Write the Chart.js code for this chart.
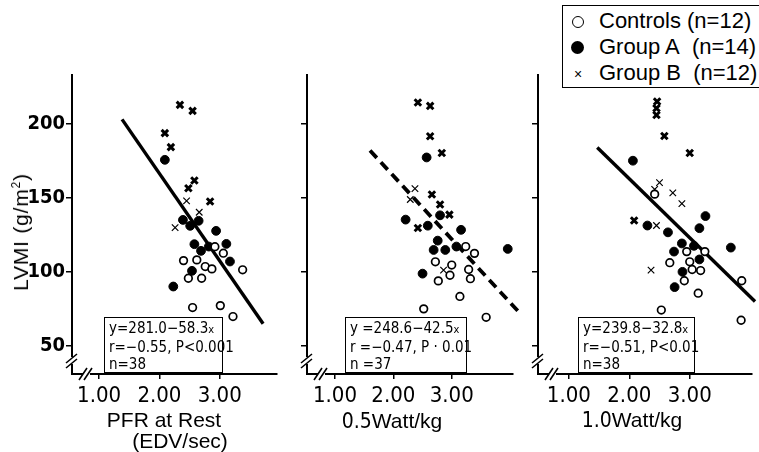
<!DOCTYPE html>
<html><head><meta charset="utf-8">
<script src="https://cdn.jsdelivr.net/npm/chart.js@4/dist/chart.umd.min.js"></script>
<style>
html,body{margin:0;padding:0;background:#fff;}
#wrap{position:relative;width:759px;height:452px;overflow:hidden;background:#fff;font-family:"Liberation Sans",Arial,sans-serif;color:#000;}
canvas{position:absolute;top:0;}
.box{position:absolute;border:1.5px solid #000;background:#fff;font-family:"Liberation Sans Narrow","DejaVu Sans Condensed",sans-serif;font-size:15px;line-height:17.5px;padding:2px 4px;box-sizing:border-box;white-space:nowrap;}
.legend{position:absolute;left:562px;top:5px;width:200px;height:83px;border:1.5px solid #000;background:#fff;box-sizing:border-box;font-size:22px;}
.legend .txt{position:absolute;left:36px;white-space:nowrap;line-height:26px;}
.legend .mk{position:absolute;box-sizing:border-box;border-radius:50%;}
.legend .x{position:absolute;left:9px;font-size:14px;line-height:14px;width:12px;text-align:center;}
.title{position:absolute;white-space:nowrap;font-size:21px;transform:translate(-50%,-50%);}
.narrow{font-family:"Liberation Sans Narrow","DejaVu Sans Condensed",sans-serif;}
</style></head>
<body><div id="wrap">
<canvas id="c1" width="285" height="452" style="left:0px"></canvas>
<canvas id="c2" width="286" height="452" style="left:235px"></canvas>
<canvas id="c3" width="293" height="452" style="left:466px"></canvas>

<div class="box" style="left:104px;top:317px;width:119px;height:56px;">y=281.0−58.3<span style="font-size:11px">x</span><br>r=−0.55, P&lt;0.001<br>n=38</div>
<div class="box" style="left:345px;top:317px;width:122px;height:56px;">y =248.6−42.5<span style="font-size:11px">x</span><br>r =−0.47, P · 0.01<br>n =37</div>
<div class="box" style="left:578px;top:317px;width:117px;height:56px;">y=239.8−32.8<span style="font-size:11px">x</span><br>r=−0.51, P&lt;0.01<br>n=38</div>

<div class="legend">
  <div class="mk" style="left:9px;top:10px;width:12px;height:12px;border:1.5px solid #000;"></div>
  <div class="txt" style="top:2px">Controls (n=12)</div>
  <div class="mk" style="left:8px;top:35px;width:13px;height:13px;background:#000;"></div>
  <div class="txt" style="top:28px">Group A&nbsp; (n=14)</div>
  <div class="x" style="top:61px">×</div>
  <div class="txt" style="top:54px">Group B&nbsp; (n=12)</div>
</div>

<div class="title" style="left:21px;top:232px;letter-spacing:0.8px;transform:translate(-50%,-50%) rotate(-90deg);">LVMI (g/m<sup style="font-size:12px">2</sup>)</div>
<div class="title" style="left:164px;top:420px;">PFR at Rest</div>
<div class="title" style="left:180px;top:441px;">(EDV/sec)</div>
<div class="title" style="left:392px;top:421px;"><span class="narrow">0.5</span>Watt/kg</div>
<div class="title" style="left:632px;top:420px;"><span class="narrow">1.0</span>Watt/kg</div>
</div>
<script>
// ---- data ----
const xTicks = [1, 2, 3];
const yTicks = [50, 100, 150, 200];

// Panel 1: PFR at rest
const restControls = [[2.92,117],[3.06,112.6],[2.40,107.6],[2.62,108.1],[2.76,103.6],[2.87,102],[3.38,101.4],[2.48,95.7],[2.70,95.7],[2.55,75.9],[3.01,77.2],[3.22,69.8]];
const restGroupA = [[2.09,175.7],[2.39,135.1],[2.51,131.1],[2.65,134.5],[2.94,127.7],[2.58,118.7],[2.69,114.2],[2.82,117.1],[3.11,118.9],[3.17,107],[2.54,100.7],[2.23,90.1]];
const restGroupB = [[2.34,212.8],[2.55,208.8],[2.09,193.7],[2.19,184.3],[2.58,161.7],[2.48,156.5],[2.84,147.5]];
const restGroupBLight = [[2.45,148],[2.66,140.3],[2.26,129.9]];
const restFit = [[1.38,203],[3.72,65]];

// Panel 2: 0.5 Watt/kg
const halfControls = [[3.24,117.1],[3.39,112.5],[2.72,106.8],[3.00,104.6],[3.29,101.6],[2.97,97.7],[3.32,95.4],[2.77,93.9],[3.14,83.4],[2.52,75],[3.59,69.3]];
const halfGroupA = [[2.57,177.3],[2.21,135.3],[2.59,131.2],[2.80,138.2],[3.16,128.4],[2.76,121.1],[2.69,114.8],[2.89,114.8],[3.08,117.1],[3.96,115.5],[2.50,98.8]];
const halfGroupB = [[2.42,214.4],[2.63,212.1],[2.63,191.6],[2.83,180.3],[2.66,152.3],[2.80,145.5],[2.96,138.7],[2.42,129.6]];
const halfGroupBLight = [[2.37,156.2],[2.29,148.9],[2.86,101.2]];
const halfFit = [[1.60,182],[4.17,72]];

// Panel 3: 1.0 Watt/kg
const oneControls = [[2.42,152.5],[2.95,113.7],[3.25,113.7],[2.67,106.2],[3.00,106.8],[3.04,101.6],[3.18,100.9],[2.91,94],[3.86,94],[3.14,85.6],[2.53,74.2],[3.85,67.3]];
const oneGroupA = [[2.06,175.1],[3.26,137.7],[3.16,129.5],[2.30,131.3],[2.64,126.7],[2.87,119.2],[3.07,117.6],[2.74,113.7],[3.68,116.4],[3.16,108.4],[2.88,100],[2.75,89.7]];
const oneGroupB = [[2.46,215.1],[2.45,210.5],[2.45,206],[2.58,191.8],[3.00,180.3],[2.08,134.7]];
const oneGroupBLight = [[2.50,160.3],[2.42,155.7],[2.72,153.4],[2.87,146.1],[2.45,131.3],[2.36,101.2]];
const oneFit = [[1.47,184],[4.08,80]];

// ---- drawing ----
const pts = a => a.map(p => ({x: p[0], y: p[1]}));
const NARROW = '"Liberation Sans Narrow","DejaVu Sans Condensed",sans-serif';

const breakPlugin = {
  id: 'axisBreaks',
  afterDraw(chart) {
    const ctx = chart.ctx, a = chart.chartArea, L = a.left, B = a.bottom;
    ctx.save();
    ctx.fillStyle = '#fff';
    const yb = B - 12;
    ctx.fillRect(L - 3, yb - 5, 6, 7);
    const xb = L + 14;
    ctx.fillRect(xb - 3, B - 3, 7, 6);
    ctx.strokeStyle = '#000';
    ctx.lineWidth = 1.6;
    ctx.beginPath();
    ctx.moveTo(L - 6, yb + 1); ctx.lineTo(L + 5, yb - 8);
    ctx.moveTo(L - 6, yb + 6); ctx.lineTo(L + 5, yb - 3);
    ctx.moveTo(xb - 7, B + 6); ctx.lineTo(xb + 1, B - 6);
    ctx.moveTo(xb - 2, B + 6); ctx.lineTo(xb + 6, B - 6);
    ctx.stroke();
    ctx.restore();
  }
};

function makePanel(id, xMin, xMax, rightPad, showYLabels, controls, groupA, groupB, groupBLight, fit, dashed) {
  new Chart(document.getElementById(id), {
    type: 'scatter',
    data: {
      datasets: [
        {label: 'Controls', data: pts(controls), pointStyle: 'circle', pointRadius: 3.8, pointBackgroundColor: '#fff', pointBorderColor: '#000', pointBorderWidth: 1.7, order: 0},
        {label: 'Group A', data: pts(groupA), pointStyle: 'circle', pointRadius: 4.4, pointBackgroundColor: '#000', pointBorderColor: '#000', pointBorderWidth: 1, order: 0},
        {label: 'Group B', data: pts(groupB), pointStyle: 'crossRot', pointRadius: 4.6, pointBorderColor: '#000', pointBorderWidth: 3, order: 0},
        {label: 'Group B ', data: pts(groupBLight), pointStyle: 'crossRot', pointRadius: 4.6, pointBorderColor: '#000', pointBorderWidth: 1.2, order: 0},
        {type: 'line', label: 'fit', data: pts(fit), borderColor: '#000', borderWidth: dashed ? 3.8 : 3.4, borderDash: dashed ? [10, 6] : [], pointRadius: 0, showLine: true, clip: false, order: 5}
      ]
    },
    options: {
      responsive: false, animation: false, devicePixelRatio: 1,
      layout: {padding: {top: 75, right: rightPad, left: 0, bottom: 0}},
      plugins: {legend: {display: false}, tooltip: {enabled: false}},
      scales: {
        x: {
          type: 'linear', min: xMin, max: xMax,
          afterBuildTicks: s => { s.ticks = xTicks.map(v => ({value: v})); },
          afterFit: s => { s.height = 78; },
          grid: {drawOnChartArea: false, drawTicks: true, tickLength: 5, color: '#000', lineWidth: 1.5},
          border: {display: true, color: '#000', width: 2},
          ticks: {callback: v => Number(v).toFixed(2), font: {family: NARROW, size: 22}, color: '#000', padding: 4, maxRotation: 0, autoSkip: false}
        },
        y: {
          type: 'linear', min: 31, max: 233,
          afterBuildTicks: s => { s.ticks = yTicks.map(v => ({value: v})); },
          afterFit: s => { s.width = 72; },
          grid: {drawOnChartArea: false, drawTicks: true, tickLength: 6, color: '#000', lineWidth: 1.5},
          border: {display: true, color: '#000', width: 2},
          ticks: {callback: v => showYLabels ? String(v) : '', font: {family: NARROW, size: 20, weight: 'bold'}, color: '#000', padding: 1, autoSkip: false}
        }
      }
    },
    plugins: [breakPlugin]
  });
}

makePanel('c1', 0.55, 3.95, 8, true, restControls, restGroupA, restGroupB, restGroupBLight, restFit, false);
makePanel('c2', 0.52, 4.05, 8, false, halfControls, halfGroupA, halfGroupB, halfGroupBLight, halfFit, true);
makePanel('c3', 0.49, 4.02, 4, false, oneControls, oneGroupA, oneGroupB, oneGroupBLight, oneFit, false);
</script>
</body></html>
